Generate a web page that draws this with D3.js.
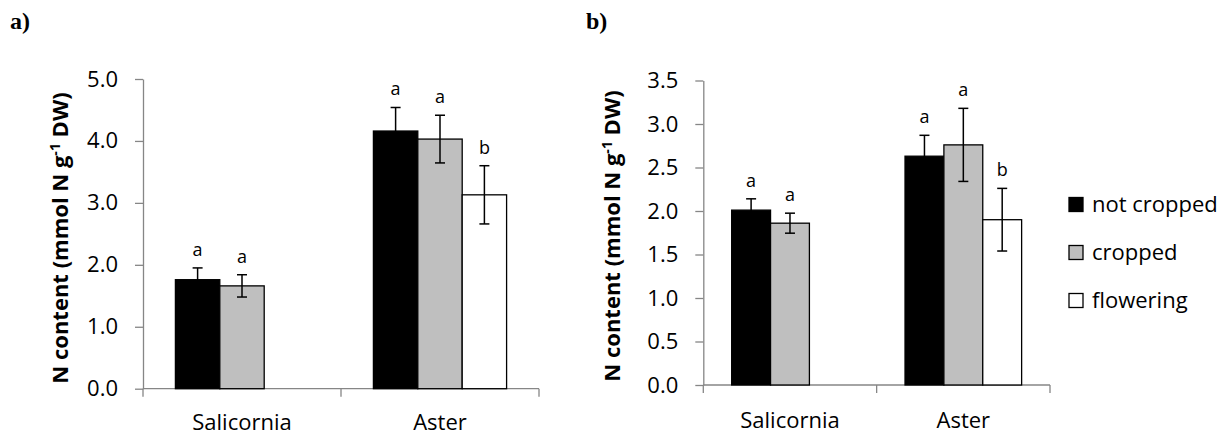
<!DOCTYPE html>
<html>
<head>
<meta charset="utf-8">
<script src="https://cdn.jsdelivr.net/npm/d3@7"></script>
<style>
  body { margin: 0; background: #fff; }
  text { font-family: "Open Sans", "Noto Sans", sans-serif; fill: #000; }
  text.tag { font-family: "Liberation Serif", "Times New Roman", serif; }
</style>
</head>
<body>
<svg width="1231" height="436"></svg>
<script>
const categories = ['Salicornia', 'Aster'];
const series = ['not cropped', 'cropped', 'flowering'];

// a) values and standard errors
const aNotCropped = [1.76, 4.16];
const aCropped = [1.66, 4.03];
const aFlowering = [null, 3.13];
const aNotCroppedErr = [0.19, 0.38];
const aCroppedErr = [0.18, 0.385];
const aFloweringErr = [null, 0.47];
const aLetters = [['a', 'a'], ['a', 'a'], [null, 'b']];
const aTicks = [0, 1, 2, 3, 4, 5];

// b) values and standard errors
const bNotCropped = [2.01, 2.63];
const bCropped = [1.86, 2.76];
const bFlowering = [null, 1.90];
const bNotCroppedErr = [0.13, 0.24];
const bCroppedErr = [0.115, 0.42];
const bFloweringErr = [null, 0.36];
const bLetters = [['a', 'a'], ['a', 'a'], [null, 'b']];
const bTicks = [0, 0.5, 1, 1.5, 2, 2.5, 3, 3.5];

const fills = ['#000000', '#bfbfbf', '#ffffff'];
const axisGrey = '#868686';

let svg = d3.select('svg');

function drawPanel(p) {
  let g = svg.append('g');

  let x = d3.scaleBand()
    .domain(categories)
    .range([p.left, p.right]);

  let xs = d3.scaleBand()
    .domain(series)
    .range([0, x.bandwidth()])
    .paddingOuter(0.73);

  let y = d3.scaleLinear()
    .domain([0, p.ticks[p.ticks.length - 1]])
    .range([p.bottom, p.top]);

  // y axis
  let yAxis = g.append('g')
    .attr('transform', `translate(${p.left},0)`)
    .call(d3.axisLeft(y)
      .tickValues(p.ticks)
      .tickSize(8)
      .tickSizeOuter(0)
      .tickPadding(17)
      .tickFormat(d3.format('.1f')));
  yAxis.select('.domain').attr('stroke', axisGrey).attr('stroke-width', 1.3);
  yAxis.selectAll('.tick line').attr('stroke', axisGrey).attr('stroke-width', 1.3);
  yAxis.selectAll('.tick text')
    .style('font-size', '22px')
    .attr('fill', '#000');

  // x axis
  g.append('line')
    .attr('x1', p.left).attr('x2', p.right)
    .attr('y1', p.bottom).attr('y2', p.bottom)
    .attr('stroke', axisGrey).attr('stroke-width', 1.3);

  let bounds = categories.map(c => x(c)).concat([x.range()[1]]);
  g.selectAll('.xtick')
    .data(bounds)
    .enter()
    .append('line')
    .attr('x1', d => d).attr('x2', d => d)
    .attr('y1', p.bottom).attr('y2', p.bottom + 8)
    .attr('stroke', axisGrey).attr('stroke-width', 1.3);

  g.selectAll('.xlabel')
    .data(categories)
    .enter()
    .append('text')
    .attr('x', d => x(d) + x.bandwidth() / 2)
    .attr('y', p.labelY)
    .attr('text-anchor', 'middle')
    .attr('font-size', 22)
    .text(d => d);

  // bars
  let rows = [];
  series.forEach((s, si) => {
    categories.forEach((c, ci) => {
      let v = p.values[si][ci];
      if (v == null) return;
      rows.push({ s: s, si: si, c: c, v: v, e: p.errors[si][ci], letter: p.letters[si][ci] });
    });
  });

  g.selectAll('.bar')
    .data(rows)
    .enter()
    .append('rect')
    .attr('x', d => x(d.c) + xs(d.s))
    .attr('y', d => y(d.v))
    .attr('width', xs.bandwidth())
    .attr('height', d => y(0) - y(d.v))
    .attr('fill', d => fills[d.si])
    .attr('stroke', '#000')
    .attr('stroke-width', 1.3);

  // error bars
  let cx = d => x(d.c) + xs(d.s) + xs.bandwidth() / 2;
  let err = g.selectAll('.err')
    .data(rows)
    .enter()
    .append('g')
    .attr('stroke', '#000')
    .attr('stroke-width', 1.5);
  err.append('line')
    .attr('x1', cx).attr('x2', cx)
    .attr('y1', d => y(d.v + d.e)).attr('y2', d => y(d.v - d.e));
  err.append('line')
    .attr('x1', d => cx(d) - 5).attr('x2', d => cx(d) + 5)
    .attr('y1', d => y(d.v + d.e)).attr('y2', d => y(d.v + d.e));
  err.append('line')
    .attr('x1', d => cx(d) - 5).attr('x2', d => cx(d) + 5)
    .attr('y1', d => y(d.v - d.e)).attr('y2', d => y(d.v - d.e));

  // significance letters
  g.selectAll('.letter')
    .data(rows)
    .enter()
    .append('text')
    .attr('x', cx)
    .attr('y', d => y(d.v + d.e) - 12)
    .attr('text-anchor', 'middle')
    .attr('font-size', 18)
    .text(d => d.letter);

  // y title
  let title = g.append('text')
    .attr('transform', `translate(${p.titleX},${p.titleY}) rotate(-90)`)
    .attr('text-anchor', 'middle')
    .attr('font-size', 22)
    .attr('font-weight', 'bold');
  title.append('tspan').text('N content (mmol N g');
  title.append('tspan').attr('dy', -8).attr('font-size', 14).text('-1');
  title.append('tspan').attr('dy', 8).text(' DW)');

  // panel label
  g.append('text')
    .attr('class', 'tag')
    .attr('x', p.tagX)
    .attr('y', 29)
    .attr('font-weight', 'bold')
    .attr('font-size', 24)
    .text(p.tag);
}

drawPanel({
  tag: 'a)', tagX: 10,
  left: 143, right: 539, bottom: 388.7, top: 79,
  ticks: aTicks,
  values: [aNotCropped, aCropped, aFlowering],
  errors: [aNotCroppedErr, aCroppedErr, aFloweringErr],
  letters: aLetters,
  labelY: 430, titleX: 68, titleY: 238
});

drawPanel({
  tag: 'b)', tagX: 586,
  left: 703.3, right: 1050, bottom: 385, top: 80.5,
  ticks: bTicks,
  values: [bNotCropped, bCropped, bFlowering],
  errors: [bNotCroppedErr, bCroppedErr, bFloweringErr],
  letters: bLetters,
  labelY: 428, titleX: 620, titleY: 236
});

// legend
let legend = svg.append('g')
  .selectAll('g')
  .data(series)
  .enter()
  .append('g')
  .attr('transform', (d, i) => `translate(1069,${197.5 + i * 48})`);
legend.append('rect')
  .attr('width', 14).attr('height', 14)
  .attr('fill', (d, i) => fills[i])
  .attr('stroke', '#000')
  .attr('stroke-width', 1.3);
legend.append('text')
  .attr('x', 23)
  .attr('y', 14.5)
  .attr('font-size', 22)
  .text(d => d);
</script>
</body>
</html>
